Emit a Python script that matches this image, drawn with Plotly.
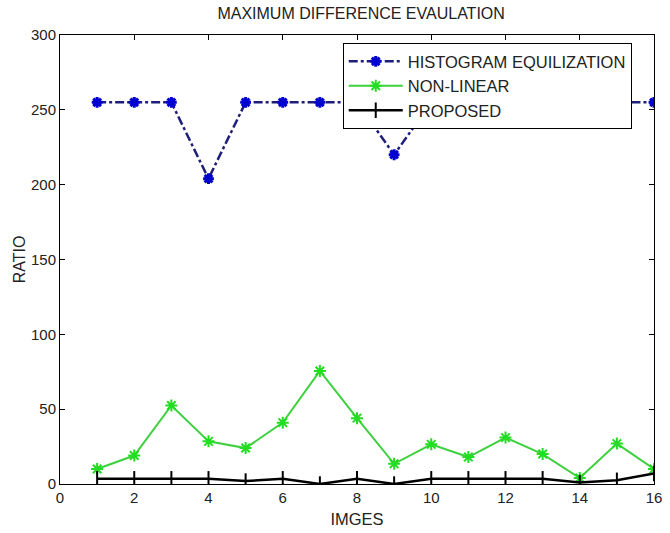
import plotly.graph_objects as go

images = list(range(1, 17))
hist_eq = [255, 255, 255, 204, 255, 255, 255, 255, 220, 255, 255, 255, 255, 255, 255, 255]
non_linear = [10, 19, 52.5, 28.5, 24, 41, 75.5, 44, 13.5, 26.5, 18, 31, 20, 4, 27, 10]
proposed = [3.5, 3.5, 3.5, 3.5, 2, 3.5, 0, 3.5, 0, 3.5, 3.5, 3.5, 3.5, 1, 2.5, 7]

x_ticks = [0, 2, 4, 6, 8, 10, 12, 14, 16]
y_ticks = [0, 50, 100, 150, 200, 250, 300]

FONT = "Liberation Sans, Arial, sans-serif"

fig = go.Figure()
fig.add_trace(go.Scatter(
    x=images, y=hist_eq, name="HISTOGRAM EQUILIZATION", mode="lines+markers",
    line=dict(color="#1e1e7a", width=2.5, dash="dashdot"),
    marker=dict(symbol="asterisk-open", size=9, color="#0000d0",
                line=dict(color="#0000d0", width=3)),
))
fig.add_trace(go.Scatter(
    x=images, y=non_linear, name="NON-LINEAR", mode="lines+markers",
    line=dict(color="#3fd03f", width=2),
    marker=dict(symbol="asterisk-open", size=10, color="#22dd22",
                line=dict(color="#22dd22", width=2)),
))
fig.add_trace(go.Scatter(
    x=images, y=proposed, name="PROPOSED", mode="lines+markers",
    line=dict(color="#000000", width=2.5),
    marker=dict(symbol="line-ns-open", size=11, color="#000000",
                line=dict(color="#000000", width=2)),
))

axis_common = dict(
    showgrid=False, zeroline=False, showline=True, linecolor="black", linewidth=1,
    mirror="ticks", ticks="inside", ticklen=5, tickcolor="black", automargin=False,
    tickfont=dict(family=FONT, size=15, color="#222"),
)

fig.update_layout(
    width=670, height=533,
    margin=dict(l=60, r=16, t=35, b=49),
    paper_bgcolor="white", plot_bgcolor="white",
    title=dict(text="MAXIMUM DIFFERENCE EVAULATION", x=0.539, xanchor="center",
               y=0.975, yanchor="middle",
               font=dict(family=FONT, size=16, color="#222")),
    xaxis=dict(range=[0, 16], tickvals=x_ticks,
               title=dict(text="IMGES", font=dict(family=FONT, size=16.5, color="#222"), standoff=8),
               **axis_common),
    yaxis=dict(range=[0, 300], tickvals=y_ticks,
               title=dict(text="RATIO", font=dict(family=FONT, size=16, color="#222"), standoff=1),
               **axis_common),
    legend=dict(x=0.476, y=0.982, xanchor="left", yanchor="top",
                bgcolor="white", bordercolor="black", borderwidth=1,
                font=dict(family=FONT, size=16.5, color="#222"),
                itemwidth=54, tracegroupgap=0),
    showlegend=True,
)

fig.write_html("out.html")
